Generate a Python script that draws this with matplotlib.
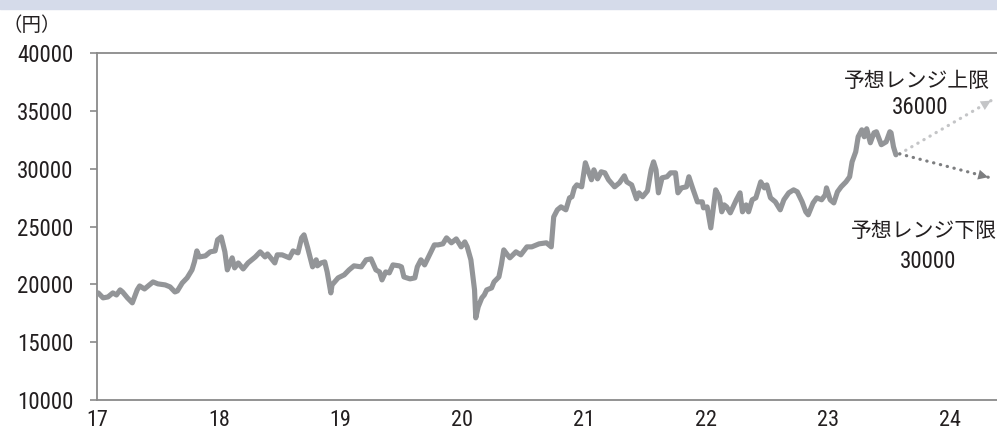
import numpy as np
import matplotlib
matplotlib.use("Agg")
import matplotlib.pyplot as plt
from matplotlib.patches import Rectangle

plt.rcParams['font.family'] = ['Roboto Condensed', 'Noto Sans CJK JP', 'DejaVu Sans']

# weekly-ish index level (x = year, 17 -> 2017)
years = [
    17.01, 17.05, 17.09, 17.13, 17.16, 17.19, 17.21, 17.25, 17.29, 17.33,
    17.35, 17.39, 17.42, 17.46, 17.50, 17.56, 17.60, 17.64, 17.66, 17.70,
    17.74, 17.78, 17.80, 17.82, 17.84, 17.89, 17.93, 17.97, 17.99, 18.02,
    18.05, 18.07, 18.11, 18.13, 18.16, 18.20, 18.24, 18.30, 18.34, 18.38,
    18.40, 18.46, 18.48, 18.52, 18.58, 18.61, 18.65, 18.68, 18.70, 18.73,
    18.77, 18.80, 18.81, 18.84, 18.87, 18.89, 18.92, 18.93, 18.98, 19.03,
    19.07, 19.11, 19.17, 19.21, 19.25, 19.29, 19.32, 19.34, 19.37, 19.40,
    19.43, 19.48, 19.50, 19.52, 19.57, 19.61, 19.63, 19.66, 19.69, 19.73,
    19.77, 19.80, 19.84, 19.87, 19.91, 19.95, 19.99, 20.02, 20.04, 20.07,
    20.10, 20.11, 20.13, 20.16, 20.18, 20.20, 20.24, 20.26, 20.30, 20.32,
    20.34, 20.37, 20.39, 20.44, 20.48, 20.53, 20.57, 20.63, 20.69, 20.73,
    20.75, 20.78, 20.81, 20.85, 20.88, 20.90, 20.92, 20.94, 20.98, 21.01,
    21.03, 21.06, 21.08, 21.11, 21.14, 21.17, 21.20, 21.25, 21.29, 21.33,
    21.35, 21.39, 21.43, 21.45, 21.48, 21.52, 21.55, 21.57, 21.59, 21.61,
    21.64, 21.68, 21.71, 21.75, 21.77, 21.80, 21.84, 21.86, 21.89, 21.93,
    21.97, 21.98, 22.01, 22.04, 22.07, 22.08, 22.11, 22.13, 22.15, 22.17,
    22.20, 22.25, 22.28, 22.30, 22.33, 22.35, 22.38, 22.41, 22.45, 22.48,
    22.50, 22.53, 22.57, 22.61, 22.64, 22.68, 22.72, 22.75, 22.79, 22.82,
    22.84, 22.88, 22.91, 22.95, 22.98, 22.99, 23.02, 23.05, 23.08, 23.11,
    23.15, 23.18, 23.20, 23.23, 23.25, 23.28, 23.30, 23.32, 23.35, 23.38,
    23.40, 23.44, 23.48, 23.51, 23.52, 23.54, 23.56,
]
prices = [
    19260, 18830, 18910, 19260, 19080, 19520, 19340, 18830, 18400, 19520,
    19860, 19600, 19860, 20210, 20040, 19950, 19780, 19340, 19430, 20120,
    20560, 21250, 21940, 22890, 22370, 22460, 22810, 22890, 23850, 24100,
    22810, 21250, 22290, 21420, 21850, 21330, 21850, 22370, 22810, 22370,
    22630, 21850, 22550, 22550, 22290, 22890, 22720, 24020, 24280, 23150,
    21510, 22120, 21600, 21850, 21940, 21070, 19260, 19950, 20560, 20820,
    21250, 21600, 21510, 22120, 22200, 21250, 21070, 20380, 21070, 20990,
    21680, 21600, 21510, 20640, 20470, 20560, 21510, 22120, 21680, 22550,
    23410, 23410, 23500, 24020, 23590, 23930, 23240, 23670, 23240, 22120,
    19520, 17100, 18050, 18830, 19080, 19520, 19690, 20210, 20640, 21680,
    22980, 22550, 22290, 22810, 22550, 23240, 23240, 23500, 23590, 23240,
    25830, 26440, 26700, 26440, 27480, 27570, 28340, 28600, 28430, 30510,
    29900, 29040, 29900, 29120, 29730, 29640, 29040, 28430, 28780, 29380,
    28860, 28600, 27390, 27910, 27570, 28080, 29900, 30590, 29900, 27910,
    29210, 29300, 29640, 29640, 27910, 28340, 28430, 29300, 28340, 27130,
    27130, 26610, 26700, 24880, 27310, 28170, 27570, 26270, 26870, 26700,
    26180, 27310, 27910, 26270, 26870, 26270, 27310, 27480, 28860, 28340,
    28600, 27480, 27130, 26440, 27310, 27910, 28170, 28000, 27130, 26270,
    26010, 27040, 27480, 27310, 27740, 28340, 27310, 27040, 28000, 28430,
    28860, 29300, 30590, 31460, 32760, 33360, 32760, 33450, 32240, 33100,
    33190, 32070, 32320, 33190, 33100, 31890, 31200,
]

# forecast range: from last value towards the range ends
range_years = [24.36, 24.34]
range_ends = [36000, 29200]
range_names = ["予想レンジ上限", "予想レンジ下限"]
range_values = [36000, 30000]

xticks = [17, 18, 19, 20, 21, 22, 23, 24]
yticks = [10000, 15000, 20000, 25000, 30000, 35000, 40000]

fig = plt.figure(figsize=(9.97, 4.33), dpi=100)
fig.patches.append(Rectangle((0, 1 - 9 / 433), 1, 9 / 433, transform=fig.transFigure,
                             color='#d5dbea', zorder=0))
ax = fig.add_axes([97 / 997, 33 / 433, 1 - 97 / 997, 347 / 433])

ax.plot(years, prices, color='#939598', lw=3.7, solid_joinstyle='round',
        solid_capstyle='round', zorder=3)

arrow_cols = ['#c4c5c7', '#7d7e80']
for yr, val, col in zip(range_years, range_ends, arrow_cols):
    x0, y0 = years[-1] + 0.03, prices[-1] + 80
    ax.plot([x0, yr], [y0, val], color=col, lw=2.3, ls=(0, (0.1, 2.1)),
            dash_capstyle='round', zorder=2)
    ax.annotate('', xy=(yr, val), xytext=(yr - (yr - x0) * 0.12, val - (val - y0) * 0.12),
                arrowprops=dict(arrowstyle='-|>', color=col, lw=0, mutation_scale=18),
                annotation_clip=False, zorder=2)

# label positions (name line, value line) in data coords
name_pos = [(23.73, 37520), (23.79, 24540)]
value_pos = [(23.76, 35270), (23.82, 21940)]
for name, v, npos, vpos in zip(range_names, range_values, name_pos, value_pos):
    ax.text(npos[0], npos[1], name, ha='center', va='center', fontsize=15,
            color='#231f20')
    ax.text(vpos[0], vpos[1], str(v), ha='center', va='center', fontsize=16.5,
            color='#231f20')

ax.set_xlim(17, 24.39)
ax.set_ylim(10000, 40000)
ax.set_xticks(xticks)
ax.set_xticklabels([str(t) for t in xticks])
ax.set_yticks(yticks)
ax.set_yticklabels([str(t) for t in yticks])
ax.tick_params(axis='x', length=0, pad=7, labelsize=16, labelcolor='#231f20')
ax.tick_params(axis='y', length=5, width=1.2, color='#8a8a8a', pad=12, labelsize=16.5,
               labelcolor='#231f20')

ax.spines['right'].set_visible(False)
for s in ['left', 'top', 'bottom']:
    ax.spines[s].set_color('#8a8a8a')
    ax.spines[s].set_linewidth(1.3)

fig.text(2 / 997, 1 - 26 / 433, "（円）", fontsize=14, color='#231f20',
         ha='left', va='center')

fig.savefig("out.png", dpi=100)
